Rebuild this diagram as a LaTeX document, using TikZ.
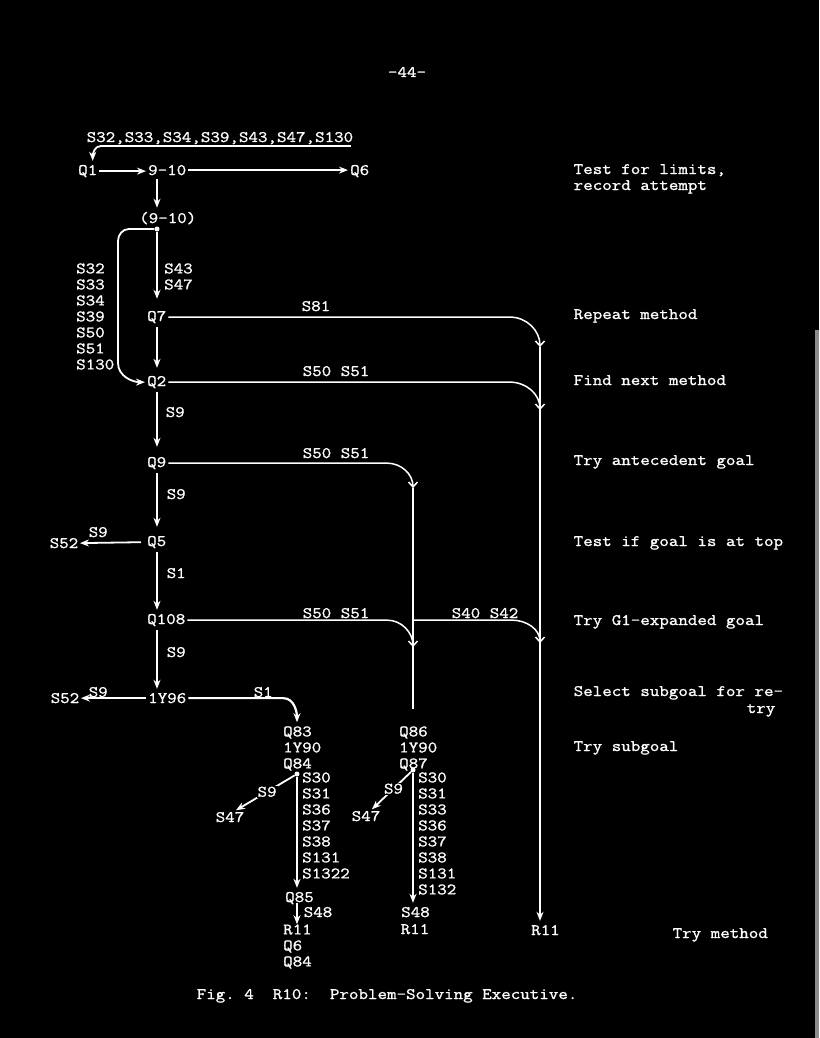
\documentclass[tikz,border=0pt]{standalone}
\usepackage{fontspec}
\usepackage{tikz}
\usetikzlibrary{calc, positioning, arrows.meta}
\newfontfamily\typefam{Latin Modern Mono}[FakeStretch=1.155, FakeBold=1.2]
\newcommand\typer{\fontsize{16}{16}\selectfont\typefam\frenchspacing}

\begin{document}
\begin{tikzpicture}[
    x=1pt, y=-1pt,
    txt/.style={text=white, font=\typer, inner sep=1.5pt, anchor=base west},
    stage/.style={txt, inner xsep=2pt, inner ysep=4pt},
    stack/.style={txt, align=left, anchor=north west, inner sep=0pt},
    note/.style={txt},
    flow/.style={draw=white, line width=1.8pt, -{Stealth[length=9pt,width=7pt]}},
    wire/.style={draw=white, line width=1.5pt},
    merge/.style={wire, -{Straight Barb[length=5pt,width=9pt,line width=1.5pt]}},
    tap/.style={circle, fill=white, inner sep=0pt, minimum size=5pt},
    onwire/.style={text=white, font=\typer, fill=black, inner sep=1pt},
  ]
    \fill[black] (0,0) rectangle (819,1038);
    \fill[white!55!black] (815,330) rectangle (819,1038);

    \coordinate (axis) at (157,0);
    \coordinate (railA) at (540,0);
    \coordinate (railB) at (413,0);
    \coordinate (endB) at (413,709);

    \node[txt, anchor=base] (pg) at (407,77) {-44-};

    % executive column
    \node[txt] (retlbl) at (85,142) {S32,S33,S34,S39,S43,S47,S130};
    \node[stage] (q1) at (76,175) {Q1};
    \node[stage] (n910) at (146,175) {9-10};
    \node[stage] (q6) at (348,175) {Q6};
    \node[stage] (p910) at (137,223) {(9-10)};
    \node[tap] (d1) at (157,229) {};
    \node[stack] (tagsL) at (76,263.2) {S32\\S33\\S34\\S39\\S50\\S51\\S130};
    \node[stack] (tagsR) at (164,263.2) {S43\\S47};
    \node[stage] (q7) at (145,321) {Q7};
    \node[txt] (s81) at (300,311) {S81};
    \node[stage] (q2) at (145,386) {Q2};
    \node[txt] (s5051a) at (301,376) {S50 S51};
    \node[txt] (s9a) at (164,417) {S9};
    \node[stage] (q9) at (145,467) {Q9};
    \node[txt] (s5051b) at (301,458) {S50 S51};
    \node[txt] (s9b) at (165,499) {S9};
    \node[stage] (q5) at (145,546) {Q5};
    \node[txt] (s52a) at (48,548) {S52};
    \node[txt] (s9c) at (87,537) {S9};
    \node[txt] (s1a) at (165,578) {S1};
    \node[stage] (q108) at (145,624) {Q108};
    \node[txt] (s5051c) at (301,618) {S50 S51};
    \node[txt] (s4042) at (450,618) {S40 S42};
    \node[txt] (s9d) at (165,657) {S9};
    \node[stage] (y96) at (146,703) {1Y96};
    \node[txt] (s52b) at (49,703) {S52};
    \node[txt] (s9e) at (87,697) {S9};
    \node[txt] (s1b) at (252,697) {S1};

    % subgoal branches
    \node[stack] (q83) at (283,726.2) {Q83\\1Y90\\Q84};
    \node[tap] (dotA) at (297,774) {};
    \node[stack] (s30a) at (302,772.2) {S30\\S31\\S36\\S37\\S38\\S131\\S1322};
    \node[txt] (s47a) at (214,822) {S47};
    \node[stage] (q85) at (283,902) {Q85};
    \node[txt] (s48a) at (302,917) {S48};
    \node[stack] (r11a) at (283,924.2) {R11\\Q6\\Q84};
    \node[stack] (q86) at (399,726.2) {Q86\\1Y90\\Q87};
    \node[tap] (dotB) at (413,770) {};
    \node[stack] (s30b) at (418,772.2) {S30\\S31\\S33\\S36\\S37\\S38\\S131\\S132};
    \node[txt] (s47b) at (350,821) {S47};
    \node[stage] (s48b) at (399,917) {S48};
    \node[txt] (r11b) at (399,934) {R11};
    \node[stage] (r11c) at (529,935) {R11};

    % comments
    \node[note] (n1) at (572,174) {Test for limits,};
    \node[note, below=16pt of n1.base west, anchor=base west] (n1b) {record attempt};
    \node[note] (n2) at (572,319) {Repeat method};
    \node[note] (n3) at (572,385) {Find next method};
    \node[note] (n4) at (572,465) {Try antecedent goal};
    \node[note] (n5) at (572,546) {Test if goal is at top};
    \node[note] (n6) at (572,625) {Try G1-expanded goal};
    \node[note] (n7) at (572,696) {Select subgoal for re-};
    \node[note, anchor=base east] (n7b) at (777,713) {try};
    \node[note] (n8) at (572,751) {Try subgoal};
    \node[note] (n9) at (671,938) {Try method};
    \node[txt] (cap) at (195,999) {Fig.~4~~R10:~~Problem-Solving Executive.};

    \draw[flow] ([xshift=-4pt]retlbl.south east) -- ([xshift=16pt]retlbl.south west)
      to[out=180,in=90] ([xshift=5pt]q1.north);
    \draw[flow] (q1.east) -- (q1.east -| n910.west);
    \draw[flow] (n910.east) -- (n910.east -| q6.west);
    \draw[flow] (n910.south -| axis) -- (p910.north -| axis);
    \draw[flow, shorten >=8pt] (d1) -- (q7.north -| axis);
    \draw[flow] (d1) -- ++(-28,0) to[out=180,in=90] ++(-11,12) -- ++(0,122)
      to[out=-90,in=180] (q2.west);
    \draw[flow, shorten >=4pt] (q7.south -| axis) -- (q2.north -| axis);
    \draw[flow, shorten >=6pt] (q2.south -| axis) -- (q9.north -| axis);
    \draw[flow, shorten >=5pt] (q9.south -| axis) -- (q5.north -| axis);
    \draw[flow] (q5.south -| axis) -- (q108.north -| axis);
    \draw[flow] (q108.south -| axis) -- (y96.north -| axis);
    \draw[flow, shorten <=4pt] (q5.west) -- (s52a.east);
    \draw[flow] (y96.west) -- (s52b.east);

    % method rails
    \draw[merge] (q7.east) -- ($(q7.east -| railA)+(-30,0)$)
      to[out=0,in=90] ($(q7.east -| railA)+(0,30)$) coordinate (topA);
    \draw[flow] (topA) -- (topA |- r11c.north);
    \draw[merge] (q2.east) -- ($(q2.east -| railA)+(-30,0)$)
      to[out=0,in=90] ($(q2.east -| railA)+(0,28)$);
    \draw[merge] (q9.east) -- ($(q9.east -| railB)+(-26,0)$)
      to[out=0,in=90] ($(q9.east -| railB)+(0,25)$) coordinate (topB);
    \draw[wire] (topB) -- (endB);
    \draw[merge] (q108.east) -- ($(q108.east -| railB)+(-26,0)$)
      to[out=0,in=90] ($(q108.east -| railB)+(0,27)$);
    \draw[merge] (q108.east -| railB) -- ($(q108.east -| railA)+(-28,0)$)
      to[out=0,in=90] ($(q108.east -| railA)+(0,23)$);

    % subgoal arrows
    \draw[flow, line width=2.2pt, shorten >=4pt] (y96.east) -- ($(y96.east -| dotA)+(-14,0)$)
      to[out=0,in=90] (q83.north -| dotA);
    \draw[flow] (dotA) -- (dotA |- q85.north);
    \draw[flow] ($(q85.south -| dotA)+(0,-5)$) -- (r11a.north -| dotA);
    \draw[flow] (dotA) -- node[onwire, pos=.47] (s9f) {S9} ([xshift=6pt]s47a.north);
    \draw[flow] (dotB) -- (dotB |- s48b.north);
    \draw[flow] (dotB) -- node[onwire, pos=.45] (s9g) {S9} ([xshift=6pt]s47b.north);
\end{tikzpicture}
\end{document}
